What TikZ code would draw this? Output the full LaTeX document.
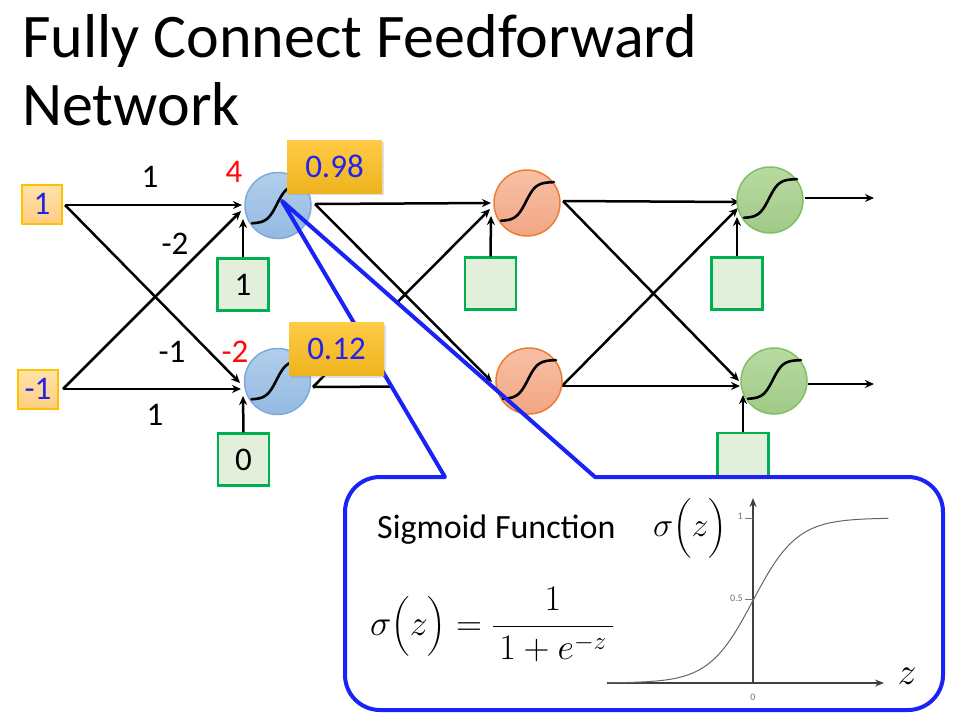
\documentclass[tikz,border=0pt]{standalone}
\usepackage{fix-cm}
\usepackage{amsmath}
\usepackage{fontspec}
\setmainfont{Carlito}
\usetikzlibrary{arrows.meta,shadows}
\definecolor{numblue}{RGB}{35,35,235}
\definecolor{goldtop}{RGB}{255,202,70}
\definecolor{goldbot}{RGB}{238,180,30}
\definecolor{inbd}{RGB}{255,192,0}
\definecolor{intop}{RGB}{255,226,170}
\definecolor{inbot}{RGB}{255,206,130}
\definecolor{biasbd}{RGB}{0,176,80}
\definecolor{biasfill}{RGB}{226,239,218}
\definecolor{bluebd}{RGB}{125,170,220}
\definecolor{bluetop}{RGB}{178,206,236}
\definecolor{bluebot}{RGB}{148,186,226}
\definecolor{orbd}{RGB}{237,125,49}
\definecolor{ortop}{RGB}{248,192,166}
\definecolor{orbot}{RGB}{241,166,132}
\definecolor{grbd}{RGB}{130,190,100}
\definecolor{grtop}{RGB}{184,218,162}
\definecolor{grbot}{RGB}{160,202,136}
\definecolor{callblue}{RGB}{25,35,245}
\definecolor{redlab}{RGB}{255,10,10}
\newcommand{\calloutpath}{(595,477) -- (908,477) arc[start angle=-90,end angle=0,radius=35] -- (943,675) arc[start angle=0,end angle=90,radius=35] -- (380,710) arc[start angle=90,end angle=180,radius=35] -- (345,512) arc[start angle=180,end angle=270,radius=35] -- (445,477) -- (282,201) -- cycle}
\begin{document}
\begin{tikzpicture}[x=1pt,y=-1pt,
  numfont/.style={font=\fontsize{33}{40}\selectfont},
  conn/.style={draw=black, line width=2.5pt, -{Stealth[length=9pt,width=8pt]}},
  inbox/.style={draw=inbd, line width=2pt, top color=intop, bottom color=inbot, minimum width=40pt, minimum height=39pt, inner sep=0pt, text=numblue, numfont},
  biasbox/.style={draw=biasbd, fill=biasfill, line width=2.5pt, minimum width=51pt, minimum height=52pt, inner sep=0pt, numfont},
  valbox/.style={top color=goldtop, bottom color=goldbot, minimum width=95pt, minimum height=53pt, inner sep=0pt, text=numblue, numfont, drop shadow={shadow xshift=2pt, shadow yshift=-2pt, opacity=0.25}},
  neuron/.style={circle, minimum size=66pt, inner sep=0pt, line width=1.5pt},
  bneuron/.style={neuron, draw=bluebd, top color=bluetop, bottom color=bluebot},
  oneuron/.style={neuron, draw=orbd, top color=ortop, bottom color=orbot},
  gneuron/.style={neuron, draw=grbd, top color=grtop, bottom color=grbot},
  wlabel/.style={numfont, inner sep=0pt},
  rlabel/.style={numfont, inner sep=0pt, text=redlab},
  sig/.pic={\draw[line width=2.6pt, line cap=round] plot[domain=-26:27, samples=45, smooth] (\x,{18-39/(1+exp(-(\x+1)/5))});},
  tick/.style={font=\fontsize{10}{12}\selectfont, text=black!55, inner sep=0pt}
]
\useasboundingbox (0,0) rectangle (958,724);

% title
\node[anchor=base west, inner sep=0pt, font=\fontsize{62}{70}\selectfont] (title1) at (22,57) {Fully Connect Feedforward};
\node[anchor=base west, inner sep=0pt, font=\fontsize{62}{70}\selectfont] (title2) at (22,125) {Network};

% input and bias boxes
\node[inbox] (x1) at (42,204) {1};
\node[inbox] (x2) at (38,389) {-1};
\node[biasbox] (b1) at (243,284.5) {1};
\node[biasbox] (b2) at (243.5,459.5) {0};
\node[biasbox] (b3) at (490.5,283.5) {};
\node[biasbox] (b4) at (737,283.5) {};
\node[biasbox] (b5) at (743,459) {};

% ports
\coordinate (x1o) at (65,205);
\coordinate (x2o) at (63,389);
\coordinate (n1h) at (242,205);
\coordinate (n1d) at (241,211);
\coordinate (n1b) at (243,219);
\coordinate (n2h) at (241,389);
\coordinate (n2d) at (240,383);
\coordinate (n2b) at (243,396);
\coordinate (n1o) at (315,204);
\coordinate (n2o) at (313,387);
\coordinate (o1h) at (491,203);
\coordinate (o1d) at (490,209);
\coordinate (o1b) at (491,216);
\coordinate (o2h) at (493,386);
\coordinate (o2d) at (492,382);
\coordinate (o1o) at (563,201);
\coordinate (o2o) at (562,386);
\coordinate (g1h) at (740,202);
\coordinate (g1d) at (738,208);
\coordinate (g1b) at (737,217);
\coordinate (g2h) at (740,386);
\coordinate (g2d) at (739,381);
\coordinate (g2b) at (743,395);
\coordinate (g1o) at (805,198);
\coordinate (g2o) at (808,384);
\coordinate (y1) at (874,198);
\coordinate (y2) at (874,384);

% connectors
\draw[conn] (x1o) -- (n1h);
\draw[conn] (x1o) -- (n2d);
\draw[conn] (x2o) -- (n1d);
\draw[conn] (x2o) -- (n2h);
\draw[conn] (b1.north) -- (n1b);
\draw[conn] (b2.north) -- (n2b);
\draw[conn] (n1o) -- (o1h);
\draw[conn] (n1o) -- (o2d);
\draw[conn] (n2o) -- (o1d);
\draw[conn] (n2o) -- (o2h);
\draw[conn] (b3.north) -- (o1b);
\draw[conn] (o1o) -- (g1h);
\draw[conn] (o1o) -- (g2d);
\draw[conn] (o2o) -- (g1d);
\draw[conn] (o2o) -- (g2h);
\draw[conn] (b4.north) -- (g1b);
\draw[conn] (b5.north) -- (g2b);
\draw[conn] (g1o) -- (y1);
\draw[conn] (g2o) -- (y2);

% weight labels
\node[wlabel] (w1) at (150,177) {1};
\node[wlabel] (w2) at (175,244) {-2};
\node[wlabel] (w3) at (172,352) {-1};
\node[wlabel] (w4) at (155,415) {1};

% callout fill
\fill[white] \calloutpath;

% neurons
\node[bneuron] (n1) at (278,205.5) {};
\node[bneuron] (n2) at (277.5,381.5) {};
\node[oneuron] (o1) at (527,203) {};
\node[oneuron] (o2) at (529,381) {};
\node[gneuron] (g1) at (770,200) {};
\node[gneuron] (g2) at (774,381) {};
\pic at (n1) {sig};
\pic at (n2) {sig};
\pic at (o1) {sig};
\pic at (o2) {sig};
\pic at (g1) {sig};
\pic at (g2) {sig};

% callout border
\draw[callblue, line width=4pt, line join=round] \calloutpath;

% value boxes and sums
\node[valbox] (v1) at (334.5,166.5) {0.98};
\node[valbox] (v2) at (336.5,349) {0.12};
\node[rlabel] (s1) at (234,172) {4};
\node[rlabel] (s2) at (235,352) {-2};

% callout contents
\node[anchor=base west, inner sep=0pt, font=\fontsize{34}{40}\selectfont] (sigtitle) at (377,538) {Sigmoid Function};
\node[anchor=base west, inner sep=0pt, font=\fontsize{36}{42}\selectfont] (formula) at (370,635) {$\sigma\Bigl(z\Bigr)=\dfrac{1}{\,1+e^{-z}\,}$};

% graph
\coordinate (org) at (753,683);
\coordinate (ytip) at (753,498);
\coordinate (xstart) at (607,683);
\coordinate (xtip) at (884,683);
\draw[black!75, line width=1.8pt, -{Stealth[length=9pt,width=7pt]}] (org) -- (ytip);
\draw[black!75, line width=1.8pt, -{Stealth[length=9pt,width=7pt]}] (xstart) -- (xtip);
\draw[black!60, line width=1pt] plot[domain=-6.6:6.15, samples=90, smooth] ({753+22*\x},{683-165/(1+exp(-\x))});
\draw[black!55, line width=0.8pt] (745,518) -- (753,518);
\draw[black!55, line width=0.8pt] (745,599) -- (753,599);
\node[tick, anchor=east] (t1) at (743,516) {1};
\node[tick, anchor=east] (t05) at (743,598) {0.5};
\node[tick] (t0) at (753,697) {0};
\node[inner sep=0pt, font=\fontsize{34}{40}\selectfont] (sz) at (690,528) {$\sigma\Bigl(z\Bigr)$};
\node[inner sep=0pt, font=\fontsize{38}{44}\selectfont] (zl) at (907,676) {$z$};
\end{tikzpicture}
\end{document}
